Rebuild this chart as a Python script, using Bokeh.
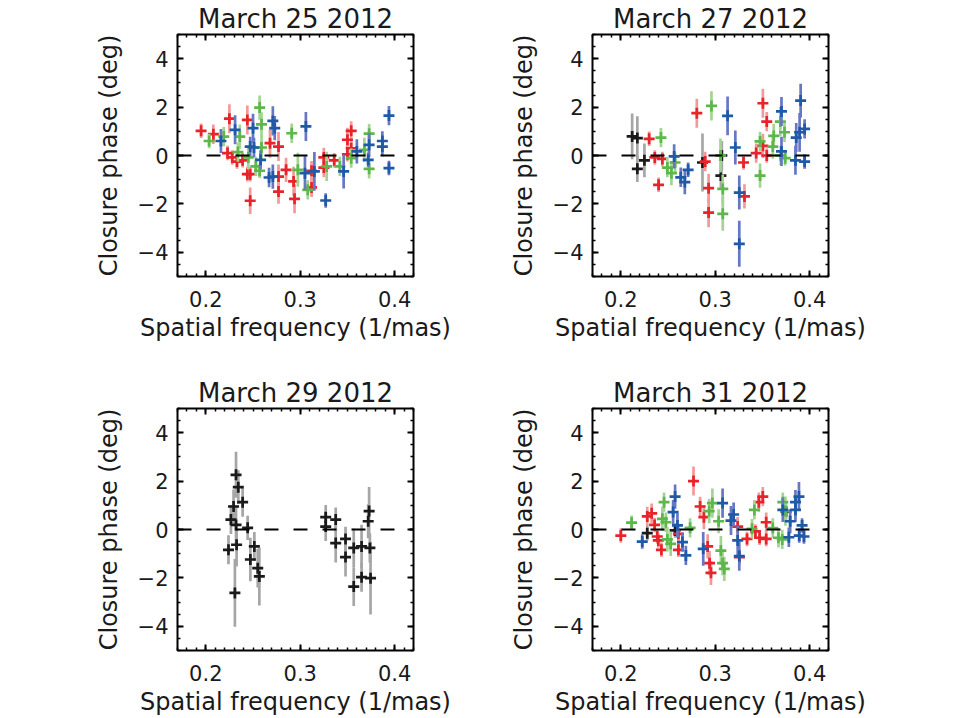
from bokeh.plotting import figure
from bokeh.models import Range1d, FixedTicker, LinearAxis, Span
from bokeh.layouts import gridplot
from bokeh.embed import file_html
from bokeh.resources import INLINE

# ---------------- data ----------------
titles = ["March 25 2012", "March 27 2012", "March 29 2012", "March 31 2012"]
x_ticks = [0.2, 0.3, 0.4]
y_ticks = [-4, -2, 0, 2, 4]
y_tick_labels = {-4: "\u22124", -2: "\u22122", 0: "0", 2: "2", 4: "4"}
x_label = "Spatial frequency (1/mas)"
y_label = "Closure phase (deg)"

# March 25
m25_red_x = [0.195, 0.208, 0.225, 0.223, 0.228, 0.233, 0.239, 0.244, 0.244, 0.247, 0.247, 0.268, 0.277, 0.277,
             0.277, 0.285, 0.293, 0.294, 0.312, 0.312, 0.325, 0.325, 0.336, 0.350, 0.354, 0.350, 0.354]
m25_red_y = [1.02, 0.88, 1.52, 0.10, -0.08, -0.25, -0.20, 1.47, -0.77, -0.77, -1.87, 0.51, 0.37, -0.87,
             -1.49, -0.59, -1.07, -1.79, -0.63, -1.32, -0.08, -0.50, -0.20, 0.65, 1.02, 0.05, 0.30]
m25_red_e = [0.3, 0.4, 0.6, 0.3, 0.3, 0.3, 0.3, 0.6, 0.3, 0.3, 0.55, 0.6, 0.6, 0.5,
             0.5, 0.5, 0.6, 0.6, 0.4, 0.4, 0.4, 0.4, 0.3, 0.5, 0.4, 0.3, 0.3]
m25_green_x = [0.2035, 0.219, 0.236, 0.234, 0.245, 0.253, 0.257, 0.259, 0.257, 0.259, 0.291, 0.2975, 0.308,
               0.328, 0.342, 0.368, 0.373, 0.373, 0.354]
m25_green_y = [0.60, 0.78, 0.78, 0.14, -0.08, -0.45, 1.98, 1.29, -0.63, 0.33, 0.92, -0.59, -1.42,
               -0.45, -0.45, 0.23, 0.90, -0.55, -0.11]
m25_green_e = [0.3, 0.4, 0.5, 0.4, 0.5, 0.4, 0.5, 0.5, 0.3, 0.5, 0.4, 0.7, 0.4,
               0.6, 0.4, 0.5, 0.4, 0.4, 0.4]
m25_blue_x = [0.216, 0.231, 0.250, 0.247, 0.251, 0.258, 0.271, 0.273, 0.267, 0.271, 0.306, 0.305, 0.315,
              0.327, 0.346, 0.360, 0.373, 0.387, 0.387, 0.394, 0.394, 0.372]
m25_blue_y = [0.60, 1.06, 1.13, 0.37, 0.33, -0.18, 1.43, 1.13, -0.91, -0.87, 1.20, -0.73, -0.66,
              -1.86, -0.66, 0.17, 0.44, 0.60, 0.37, 1.65, -0.52, -0.18]
m25_blue_e = [0.5, 0.6, 0.6, 0.4, 0.4, 0.4, 0.6, 0.5, 0.4, 0.5, 0.6, 0.7, 0.8,
              0.3, 0.7, 0.5, 0.5, 0.4, 0.4, 0.4, 0.3, 0.3]

# March 27
m27_black_x = [0.212, 0.2175, 0.2175, 0.225, 0.2865, 0.306, 0.307]
m27_black_y = [0.79, 0.72, -0.55, -0.20, -0.29, -0.83, 0.00]
m27_black_e = [0.95, 0.9, 0.55, 0.7, 1.2, 0.5, 0.6]
m27_red_x = [0.230, 0.236, 0.244, 0.240, 0.2805, 0.2894, 0.293, 0.293, 0.330, 0.331, 0.3434, 0.3505, 0.3546,
             0.3505, 0.3546]
m27_red_y = [0.69, -0.08, -0.14, -1.21, 1.75, -0.25, -1.35, -2.36, -0.29, -1.69, 0.10, 2.16, 1.40, 0.40, 0.00]
m27_red_e = [0.3, 0.3, 0.3, 0.3, 0.6, 0.4, 0.6, 0.6, 0.3, 0.5, 0.4, 0.6, 0.4, 0.5, 0.3]
m27_green_x = [0.2425, 0.2493, 0.2536, 0.2575, 0.296, 0.3056, 0.308, 0.308, 0.3475, 0.3475, 0.362, 0.361,
               0.369, 0.3734, 0.3694, 0.3741]
m27_green_y = [0.74, -0.50, -0.73, -0.29, 2.05, 0.00, -1.38, -2.41, 0.58, -0.83, 0.81, 0.37, 1.40, 0.96,
               0.00, -0.11]
m27_green_e = [0.4, 0.4, 0.5, 0.4, 0.6, 0.7, 0.6, 0.7, 0.4, 0.5, 0.5, 0.5, 0.6, 0.4, 0.4, 0.3]
m27_blue_x = [0.2565, 0.2635, 0.2678, 0.2713, 0.3131, 0.3213, 0.3255, 0.3255, 0.3702, 0.3702, 0.3858, 0.385,
              0.3894, 0.3905, 0.3947, 0.3947]
m27_blue_y = [-0.04, -0.90, -1.10, -0.59, 1.64, 0.33, -1.53, -3.65, 1.82, 0.17, 0.74, -0.20, 0.96, 2.27,
              1.10, -0.25]
m27_blue_e = [0.5, 0.4, 0.5, 0.3, 0.8, 0.7, 0.7, 0.95, 0.6, 0.6, 0.6, 0.6, 0.8, 0.7, 0.4, 0.3]

# March 29
m29_black_x = [0.232, 0.2344, 0.239, 0.2294, 0.2266, 0.232, 0.2443, 0.224, 0.2326, 0.2308, 0.2514, 0.2472,
               0.255, 0.2567, 0.327, 0.327, 0.3376, 0.3376, 0.348, 0.348, 0.3567, 0.3567, 0.365, 0.365,
               0.373, 0.372, 0.3738, 0.3745]
m29_black_y = [2.26, 1.75, 1.13, 0.95, 0.41, 0.19, 0.07, -0.84, -0.63, -2.62, -0.70, -1.24, -1.60, -1.94,
               0.51, 0.12, 0.41, -0.56, -0.39, -1.14, -0.76, -2.36, -0.70, -1.97, 0.76, 0.34, -0.76, -2.01]
m29_black_e = [0.95, 0.7, 0.6, 0.7, 0.6, 0.8, 0.5, 0.6, 0.9, 1.4, 0.6, 0.9, 0.8, 1.2,
               0.5, 0.6, 0.5, 0.8, 0.5, 0.8, 0.8, 0.8, 0.9, 0.6, 1.0, 0.7, 0.6, 1.5]

# March 31
m31_black_x = [0.228, 0.2575, 0.375]
m31_black_y = [-0.15, -0.04, 0.74]
m31_black_e = [0.3, 0.3, 0.4]
m31_red_x = [0.200, 0.228, 0.2327, 0.2358, 0.2386, 0.2397, 0.243, 0.261, 0.261, 0.277, 0.284, 0.288, 0.292,
             0.294, 0.2955, 0.3238, 0.3256, 0.3337, 0.3426, 0.3462, 0.3504, 0.354, 0.347, 0.354]
m31_red_y = [-0.25, 0.54, 0.67, 0.19, -0.29, -0.45, -0.84, -0.18, -0.84, 2.00, 0.95, 0.51, -0.70,
             -1.39, -1.79, 0.12, -1.14, -0.39, -0.08, 1.13, 1.36, 0.30, -0.34, -0.39]
m31_red_e = [0.3, 0.4, 0.4, 0.3, 0.3, 0.3, 0.3, 0.4, 0.3, 0.6, 0.4, 0.5, 0.5,
             0.5, 0.5, 0.4, 0.3, 0.3, 0.3, 0.4, 0.4, 0.4, 0.3, 0.3]
m31_green_x = [0.2114, 0.2458, 0.244, 0.2477, 0.2493, 0.2528, 0.2734, 0.2936, 0.297, 0.3036, 0.306, 0.3078,
               0.3096, 0.3415, 0.339, 0.361, 0.367, 0.3716, 0.371, 0.3744]
m31_green_y = [0.28, 1.13, 0.44, 0.30, -0.41, -0.59, 0.07, 0.76, 1.09, 0.34, -0.87, -1.39,
               -1.63, 0.81, 0.03, 0.06, -0.34, 1.13, -0.41, 0.76]
m31_green_e = [0.3, 0.4, 0.5, 0.4, 0.5, 0.5, 0.4, 0.5, 0.6, 0.5, 0.6, 0.5,
               0.5, 0.4, 0.4, 0.4, 0.4, 0.4, 0.4, 0.6]
m31_blue_x = [0.2227, 0.2575, 0.2554, 0.260, 0.2653, 0.2689, 0.2873, 0.3078, 0.3167, 0.3195, 0.3238, 0.3255,
              0.3716, 0.3794, 0.378, 0.385, 0.3887, 0.385, 0.392, 0.389, 0.394]
m31_blue_y = [-0.50, 1.36, 0.72, 0.17, -0.52, -1.07, -0.80, 1.09, 0.37, 0.62, -0.45, -1.10,
              0.81, 0.34, -0.32, 1.13, 1.36, 0.81, 0.17, -0.25, -0.29]
m31_blue_e = [0.3, 0.5, 0.5, 0.5, 0.4, 0.4, 0.7, 0.6, 0.6, 0.5, 0.6, 0.6,
              0.5, 0.5, 0.4, 0.5, 0.6, 0.5, 0.3, 0.3, 0.3]

# ---------------- style ----------------
FONT = "DejaVu Sans"
TXT = "#1a1a1a"
MARK = {"black": "#1a1a1a", "red": "#e8232a", "green": "#5cb84a", "blue": "#1f5aa8"}
ERRC = {"black": "#a6a6a6", "red": "#f29a9a", "green": "#a3d592", "blue": "#6677c4"}

panels = [
    [("red", m25_red_x, m25_red_y, m25_red_e),
     ("green", m25_green_x, m25_green_y, m25_green_e),
     ("blue", m25_blue_x, m25_blue_y, m25_blue_e)],
    [("black", m27_black_x, m27_black_y, m27_black_e),
     ("red", m27_red_x, m27_red_y, m27_red_e),
     ("green", m27_green_x, m27_green_y, m27_green_e),
     ("blue", m27_blue_x, m27_blue_y, m27_blue_e)],
    [("black", m29_black_x, m29_black_y, m29_black_e)],
    [("black", m31_black_x, m31_black_y, m31_black_e),
     ("red", m31_red_x, m31_red_y, m31_red_e),
     ("green", m31_green_x, m31_green_y, m31_green_e),
     ("blue", m31_blue_x, m31_blue_y, m31_blue_e)],
]

x_minor = [round(0.17 + 0.01 * i, 2) for i in range(26)]
y_minor = [-5 + 0.5 * i for i in range(21)]


def style_axis(ax, ticks, minor, show_labels):
    ax.ticker = FixedTicker(ticks=ticks, minor_ticks=minor)
    ax.axis_line_color = None
    ax.major_tick_in = 6
    ax.major_tick_out = 0
    ax.minor_tick_in = 3
    ax.minor_tick_out = 0
    ax.major_tick_line_width = 2
    ax.minor_tick_line_width = 1.5
    ax.major_tick_line_color = "black"
    ax.minor_tick_line_color = "black"
    if not show_labels:
        ax.major_label_overrides = {t: "" for t in ticks}
        ax.major_label_standoff = 0


def make_panel(idx, left, right, top, bottom):
    p = figure(frame_width=236, frame_height=242,
               x_range=Range1d(0.17, 0.42), y_range=Range1d(-5, 5),
               output_backend="svg", toolbar_location=None,
               min_border_left=left, min_border_right=right,
               min_border_top=top, min_border_bottom=bottom,
               background_fill_color="white", border_fill_color="white")
    p.grid.visible = False
    p.outline_line_color = "black"
    p.outline_line_width = 2
    p.outline_line_alpha = 1

    p.title.text = titles[idx]
    p.title.align = "center"
    p.title.text_font = FONT
    p.title.text_font_size = "26px"
    p.title.text_font_style = "normal"
    p.title.text_color = TXT
    p.title.standoff = 2

    xa = p.xaxis[0]
    ya = p.yaxis[0]
    style_axis(xa, x_ticks, x_minor, True)
    style_axis(ya, y_ticks, y_minor, True)
    ya.major_label_overrides = y_tick_labels
    for ax in (xa, ya):
        ax.major_label_text_font = FONT
        ax.major_label_text_font_size = "21px"
        ax.major_label_text_color = TXT
        ax.axis_label_text_font = FONT
        ax.axis_label_text_font_size = "24px"
        ax.axis_label_text_font_style = "normal"
        ax.axis_label_text_color = TXT
    xa.major_label_standoff = 14
    ya.major_label_standoff = 9
    xa.axis_label = x_label
    ya.axis_label = y_label
    xa.axis_label_standoff = 4
    ya.axis_label_standoff = 12

    top_ax = LinearAxis()
    right_ax = LinearAxis()
    style_axis(top_ax, x_ticks, x_minor, False)
    style_axis(right_ax, y_ticks, y_minor, False)
    p.add_layout(top_ax, "above")
    p.add_layout(right_ax, "right")

    p.add_layout(Span(location=0, dimension="width", line_color="black",
                      line_width=2, line_dash="14 15"))

    for color, xs, ys, es in panels[idx]:
        lo = [y - e for y, e in zip(ys, es)]
        hi = [y + e for y, e in zip(ys, es)]
        p.segment(x0=xs, y0=lo, x1=xs, y1=hi, line_color=ERRC[color], line_width=2.7)
        p.scatter(x=xs, y=ys, marker="cross", size=11, line_color=MARK[color], line_width=2.7)
    return p


p1 = make_panel(0, 177, 40, 33, 98)
p2 = make_panel(1, 139, 40, 33, 98)
p3 = make_panel(2, 177, 40, 33, 66)
p4 = make_panel(3, 139, 40, 33, 66)

grid = gridplot([[p1, p2], [p3, p4]], toolbar_location=None)

open("out.html", "w").write(file_html(grid, INLINE))
